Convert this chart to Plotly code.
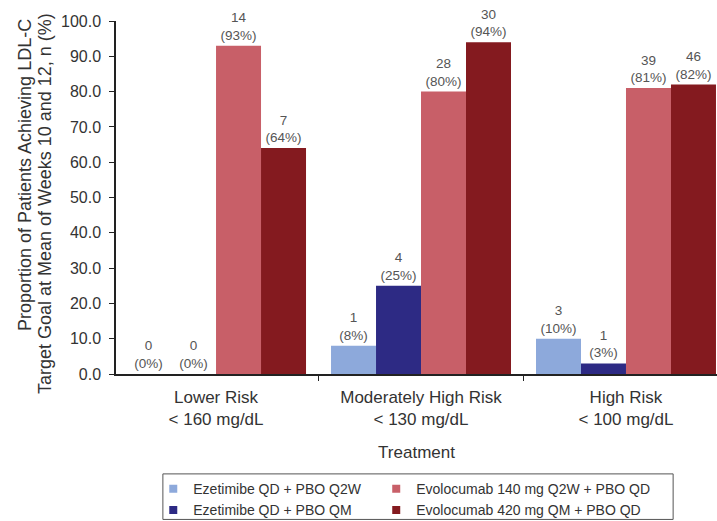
import plotly.graph_objects as go

# Risk categories and LDL-C goal thresholds
categories = [
    "Lower Risk<br>&lt; 160 mg/dL",
    "Moderately High Risk<br>&lt; 130 mg/dL",
    "High Risk<br>&lt; 100 mg/dL",
]

# Treatment arms
arm_names = [
    "Ezetimibe QD + PBO Q2W",
    "Ezetimibe QD + PBO QM",
    "Evolocumab 140 mg Q2W + PBO QD",
    "Evolocumab 420 mg QM + PBO QD",
]
arm_colors = ["#8DA9DB", "#2D2A84", "#C85F68", "#841A1F"]

# Patients reaching goal (n) and proportion (%) per arm, by risk category
eze_q2w_n = [0, 1, 3]
eze_q2w_pct = [0, 8, 10]
eze_qm_n = [0, 4, 1]
eze_qm_pct = [0, 25, 3]
evo140_n = [14, 28, 39]
evo140_pct = [93, 80, 81]
evo420_n = [7, 30, 46]
evo420_pct = [64, 94, 82]

arm_n = [eze_q2w_n, eze_qm_n, evo140_n, evo420_n]
arm_pct = [eze_q2w_pct, eze_qm_pct, evo140_pct, evo420_pct]

FONT = "Liberation Sans, Arial, Helvetica, sans-serif"
TEXT = "#333333"

fig = go.Figure()

for name, color, n, pct in zip(arm_names, arm_colors, arm_n, arm_pct):
    fig.add_trace(go.Bar(
        x=categories,
        y=pct,
        name=name,
        marker=dict(color=color, line=dict(width=0)),
        text=[f"{a}<br>({b}%)" for a, b in zip(n, pct)],
        textposition="outside",
        textfont=dict(family=FONT, size=13.5, color="#555555"),
        constraintext="none",
        cliponaxis=False,
        showlegend=False,
    ))

# Legend entries with small square swatches, in two columns
for i, (name, color) in enumerate(zip(arm_names, arm_colors)):
    fig.add_trace(go.Scatter(
        x=[None], y=[None],
        mode="markers",
        marker=dict(symbol="square", size=8, color=color),
        name=name,
        legend="legend" if i < 2 else "legend2",
    ))

legend_style = dict(
    orientation="v",
    yanchor="top",
    xanchor="left",
    font=dict(family=FONT, size=14, color=TEXT),
    bgcolor="rgba(0,0,0,0)",
    borderwidth=0,
    tracegroupgap=0,
    itemwidth=30,
)

fig.update_layout(
    width=717,
    height=521,
    margin=dict(l=116, r=0, t=21, b=147, autoexpand=False),
    plot_bgcolor="white",
    paper_bgcolor="white",
    barmode="group",
    bargap=0.122,
    bargroupgap=0,
    font=dict(family=FONT, color=TEXT),
    legend=dict(x=0.062, y=-0.281, **legend_style),
    legend2=dict(x=0.433, y=-0.281, **legend_style),
    xaxis=dict(
        range=[-0.488, 2.444],
        showline=True,
        linecolor="#222222",
        linewidth=1.5,
        ticks="outside",
        tickson="boundaries",
        ticklen=5,
        tickcolor="#222222",
        ticklabelstandoff=7,
        tickfont=dict(family=FONT, size=17, color=TEXT),
        showgrid=False,
        title=dict(text="Treatment", font=dict(family=FONT, size=17, color=TEXT), standoff=18),
    ),
    yaxis=dict(
        range=[0, 100],
        dtick=10,
        tickformat=".1f",
        showline=True,
        linecolor="#222222",
        linewidth=1.5,
        ticks="outside",
        ticklen=5,
        tickcolor="#222222",
        ticklabelstandoff=5,
        tickfont=dict(family=FONT, size=16, color=TEXT),
        showgrid=False,
        zeroline=False,
    ),
    shapes=[dict(
        type="rect", xref="paper", yref="paper",
        x0=0.078, x1=0.927, y0=-0.283, y1=-0.412,
        line=dict(color="#555555", width=1),
        fillcolor="rgba(0,0,0,0)",
    )],
    annotations=[
        dict(text="Proportion of Patients Achieving LDL-C",
             xref="paper", yref="paper", x=-0.1514, y=0.5637,
             xanchor="center", yanchor="middle", textangle=-90, showarrow=False,
             font=dict(family=FONT, size=18, color=TEXT)),
        dict(text="Target Goal at Mean of Weeks 10 and 12, n (%)",
             xref="paper", yref="paper", x=-0.1181, y=0.4816,
             xanchor="center", yanchor="middle", textangle=-90, showarrow=False,
             font=dict(family=FONT, size=18, color=TEXT)),
    ],
)

fig.write_html("out.html")
